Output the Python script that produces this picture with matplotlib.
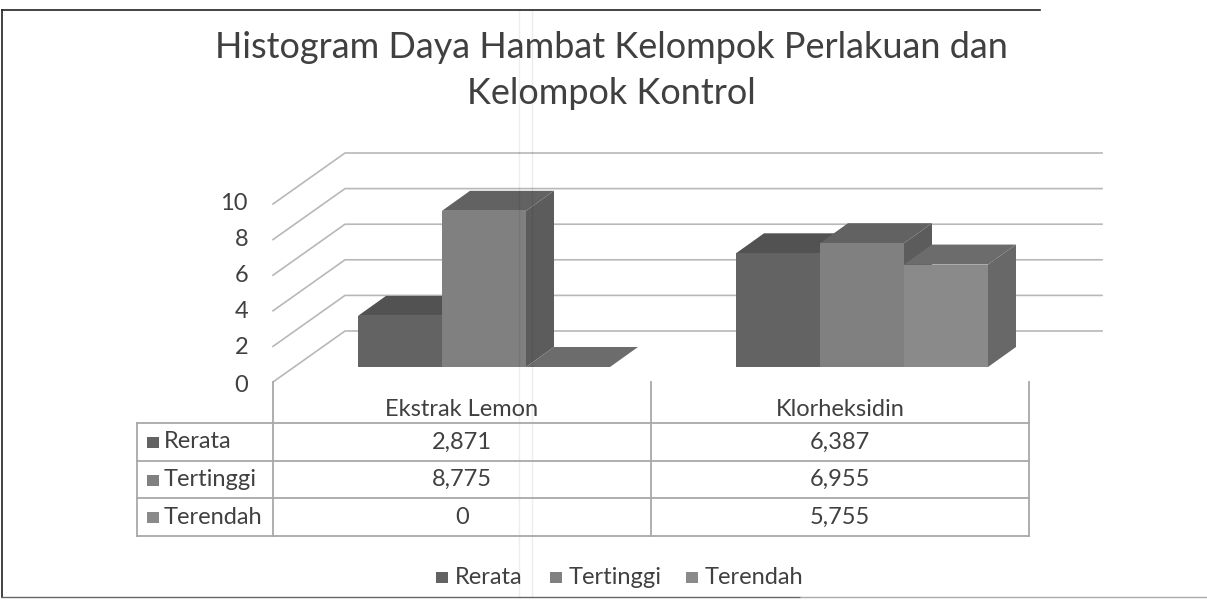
# Histogram Daya Hambat - fake 3D column chart with data table
import matplotlib
matplotlib.use('Agg')
import matplotlib.pyplot as plt
from matplotlib.patches import Polygon, Rectangle

plt.rcParams['font.family'] = ['Lato', 'DejaVu Sans']

categories = ['Ekstrak Lemon', 'Klorheksidin']
series_names = ['Rerata', 'Tertinggi', 'Terendah']
rerata = [2.871, 6.387]
tertinggi = [8.775, 6.955]
terendah = [0, 5.755]
table_text = [['2,871', '6,387'], ['8,775', '6,955'], ['0', '5,755']]
y_ticks = [0, 2, 4, 6, 8, 10]
title_lines = ['Histogram Daya Hambat Kelompok Perlakuan dan', 'Kelompok Kontrol']

W, H = 1207, 600
px_per_val = 17.8
px_per_cat = 378
base_px, cat0_px = 367, 484

front_cols = ['#636363', '#808080', '#8a8a8a']
top_cols = ['#525252', '#626262', '#6c6c6c']
side_cols = ['#4a4a4a', '#5c5c5c', '#686868']
grid_col = '#b8b8b8'
table_col = '#a8a8a8'
text_col = '#404040'

fig = plt.figure(figsize=(W / 100, H / 100), dpi=100, facecolor='white')

# chart axes: x in categories, y in values, lined up with the page in pixels
ax = fig.add_axes([0, 0, 1, 1])
ax.set_xlim(-cat0_px / px_per_cat, (W - cat0_px) / px_per_cat)
ax.set_ylim((base_px - H) / px_per_val, base_px / px_per_val)
ax.axis('off')

bar_w = 84 / px_per_cat
dx = 28 / px_per_cat
dy = 20 / px_per_val

# floor corners of the gridlines
wall_x0 = (273 - cat0_px) / px_per_cat
wall_x1 = (345 - cat0_px) / px_per_cat
wall_x2 = (1102 - cat0_px) / px_per_cat
front_off = (base_px - 382) / px_per_val
back_off = (base_px - 331) / px_per_val
for v in y_ticks:
    ax.plot([wall_x0, wall_x1, wall_x2], [v + front_off, v + back_off, v + back_off],
            color=grid_col, lw=1.2, zorder=1)

for i in range(len(categories)):
    vals = [rerata[i], tertinggi[i], terendah[i]]
    for j, v in enumerate(vals):
        x0 = i + (j - 1.5) * bar_w
        x1 = x0 + bar_w
        z = 2 + j * 0.1
        ax.add_patch(Polygon([(x1, 0), (x1 + dx, dy), (x1 + dx, v + dy), (x1, v)],
                             fc=side_cols[j], ec='none', zorder=z))
        ax.add_patch(Polygon([(x0, v), (x0 + dx, v + dy), (x1 + dx, v + dy), (x1, v)],
                             fc=top_cols[j], ec='none', zorder=z))
        if v > 0:
            ax.add_patch(Rectangle((x0, 0), bar_w, v, fc=front_cols[j], ec='none', zorder=z))

# overlay in page pixels for the title, table and legend
pg = fig.add_axes([0, 0, 1, 1])
pg.set_xlim(0, W)
pg.set_ylim(H, 0)
pg.axis('off')
pg.patch.set_alpha(0)

# scan frame and folds
pg.plot([2, 2], [10, 597], color='#222222', lw=1.2)
pg.plot([2, 1040], [10, 10], color='#222222', lw=1.2)
pg.plot([2, 800], [597, 597], color='#666666', lw=1.0)
pg.plot([800, 1207], [597, 597], color='#aaaaaa', lw=1.0)
for xf in [519, 532]:
    pg.plot([xf, xf], [10, 597], color='black', alpha=0.07, lw=1.0, zorder=0)

pg.text(611, 48, title_lines[0], fontsize=25.9, color=text_col, ha='center', va='center')
pg.text(611, 94, title_lines[1], fontsize=25.9, color=text_col, ha='center', va='center')

for v, yp in zip(y_ticks, [386, 347, 311, 275, 239, 204]):
    pg.text(248, yp, str(v), fontsize=17, color=text_col, ha='right', va='center')

# data table
col_x = [137, 273, 651, 1029]
row_y = [423, 461, 498, 536]
for yl in row_y:
    pg.plot([col_x[0], col_x[-1]], [yl, yl], color=table_col, lw=1.3)
for xl in col_x[1:]:
    pg.plot([xl, xl], [382, row_y[-1]], color=table_col, lw=1.3)
pg.plot([col_x[0], col_x[0]], [row_y[0], row_y[-1]], color=table_col, lw=1.3)

for c, name in enumerate(categories):
    pg.text((col_x[c + 1] + col_x[c + 2]) / 2, 409, name, fontsize=17, color=text_col,
            ha='center', va='center')
for r, name in enumerate(series_names):
    ym = (row_y[r] + row_y[r + 1]) / 2
    pg.add_patch(Rectangle((147, ym - 5), 12, 11, fc=front_cols[r], ec='none'))
    pg.text(164, ym, name, fontsize=17, color=text_col, ha='left', va='center')
    for c in range(len(categories)):
        pg.text((col_x[c + 1] + col_x[c + 2]) / 2, ym, table_text[r][c], fontsize=17,
                color=text_col, ha='center', va='center')

# legend
for name, col, xs in zip(series_names, front_cols, [436, 550, 686]):
    pg.add_patch(Rectangle((xs, 572), 12, 11, fc=col, ec='none'))
    pg.text(xs + 19, 577, name, fontsize=17, color=text_col, ha='left', va='center')

fig.savefig('out.png', dpi=100)
